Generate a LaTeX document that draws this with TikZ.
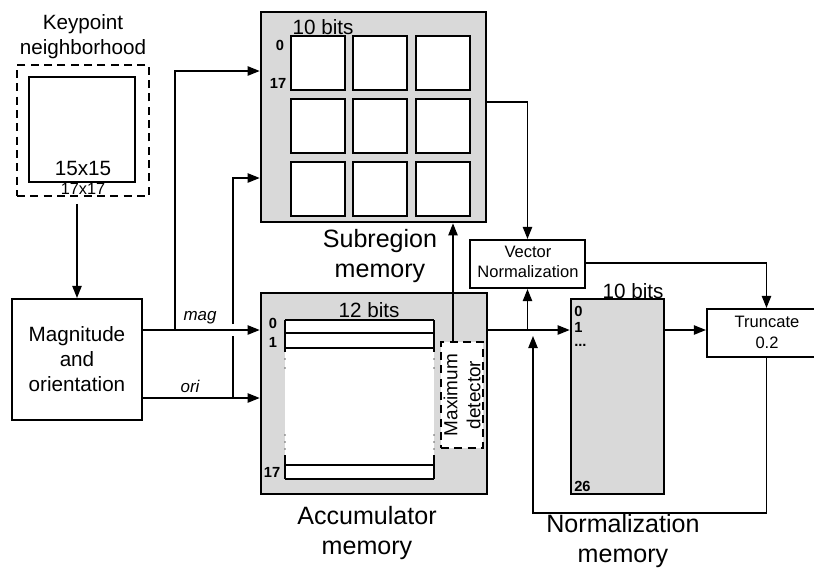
\documentclass[tikz,border=0pt]{standalone}
\usepackage{fontspec}
\setmainfont{Liberation Sans}
\usetikzlibrary{arrows.meta,fit,calc}
\definecolor{memgray}{RGB}{217,217,217}
\begin{document}
\begin{tikzpicture}[x=0.75pt,y=-0.75pt,
  box/.style={draw,line width=1.6pt,fill=white,inner sep=0pt},
  mem/.style={draw,line width=2pt,fill=memgray,inner sep=0pt},
  cell/.style={draw,line width=1.3pt,fill=white,inner sep=0pt},
  dbox/.style={draw,line width=1.3pt,dash pattern=on 6pt off 4pt,inner sep=0pt},
  conn/.style={line width=1pt,-{Triangle[length=9pt,width=7pt]}},
  wire/.style={line width=1pt},
  txt/.style={inner sep=0pt,align=center},
  big/.style={font=\fontsize{15.5}{18.75}\selectfont},
  huge/.style={font=\fontsize{18.8}{22.5}\selectfont},
  small/.style={font=\fontsize{12.4}{14.5}\selectfont},
  num/.style={inner sep=0pt,font=\fontsize{11}{13}\bfseries\selectfont},
  lab/.style={inner sep=0pt,font=\fontsize{12.7}{15}\itshape\selectfont},
]
\useasboundingbox (0,0) rectangle (814,569);
\clip (0,0) rectangle (814,569);

% keypoint neighborhood
\node[txt,big] (kptitle) at (83,37) {Keypoint\\neighborhood};
\node[dbox,fit={(17,65) (149,196)}] (kpouter) {};
\node[box,line width=1.3pt,fit={(29,77) (135,182)}] (kpinner) {};
\node[txt,big] (kp15) at (83,168) {15x15};
\node[txt,font=\fontsize{12.2}{14}\selectfont] (kp17) at (83,189) {17x17};

% magnitude and orientation
\node[box,big,align=center,fit={(12,299) (142,420)}] (magbox) {};
\node[txt,big] (magtxt) at (magbox.center) {Magnitude\\and\\orientation};

% subregion memory
\node[mem,fit={(261,12) (486,222)}] (sub) {};
\node[txt,big] (subbits) at (323,27) {10 bits};
\node[num] (sub0) at (280,45) {0};
\node[num] (sub17) at (278,83) {17};
\foreach \c/\x in {0/291,1/353,2/416}
  \foreach \r/\y in {0/36,1/99,2/162}
    \node[cell,fit={(\x,\y) (\x+54,\y+54)}] (cell\r\c) {};
\node[txt,huge] (sublab) at (380,256) {Subregion\\memory};

% accumulator memory
\node[mem,fit={(261,293) (487,494)}] (acc) {};
\node[txt,big] (accbits) at (369,310) {12 bits};
\fill[white] (285,320) rectangle (434,479);
\foreach \yy in {320,333,348,465,479}
  \draw[line width=1pt] (285,\yy) -- (434,\yy);
\foreach \xx in {285,434} {
  \draw[line width=1.2pt] (\xx,320) -- (\xx,352);
  \draw[line width=1.2pt] (\xx,455) -- (\xx,479);
  \foreach \dd in {359,368,435,442,449}
    \fill[black!60] (\xx,\dd) circle (0.7pt);
}
\node[num] (acc0) at (273,323) {0};
\node[num] (acc1) at (273,342) {1};
\node[num] (acc17) at (272,472) {17};
\node[dbox,fill=white,fit={(441,342) (483,448)}] (maxdet) {};
\node[txt,rotate=90,font=\fontsize{14.2}{17.25}\selectfont] (maxtxt) at (maxdet.center) {Maximum\\detector};
\node[txt,huge] (acclab) at (367,533) {Accumulator\\memory};

% vector normalization
\node[box,fit={(470,240) (585,288)}] (vn) {};
\node[txt,small] (vntxt) at (528,262) {Vector\\Normalization};

% normalization memory
\node[mem,fit={(571,299) (664,494)}] (norm) {};
\node[txt,big] (normbits) at (633,291) {10 bits};
\node[num,anchor=west] (norm0) at (574,311) {0};
\node[num,anchor=west] (norm1) at (574,327) {1};
\node[num,anchor=west] (normd) at (574,345) {...};
\node[num,anchor=west] (norm26) at (574,486) {26};
\node[txt,huge] (normlab) at (623,541) {Normalization\\memory};

% truncate
\node[box,fit={(707,309) (826,357)}] (trunc) {};
\node[txt,small,font=\fontsize{12.4}{15.75}\selectfont] (trtxt) at (767,332) {Truncate\\0.2};

% helper coordinates
\coordinate (ymag) at (0,330);
\coordinate (yori) at (0,398);
\coordinate (xtap1) at (175,0);
\coordinate (xtap2) at (233,0);
\coordinate (ytop1) at (0,71);
\coordinate (ytop2) at (0,178);
\coordinate (ysubout) at (0,102);
\coordinate (yvn) at (0,263);
\coordinate (yfb) at (0,513);
\coordinate (xfb) at (533,0);
\coordinate (xmd) at (453,0);

% connectors
\draw[conn] ($(kpouter.south -| magbox.north)+(0,7)$) -- (magbox.north);
\draw[conn] (magbox.east |- ymag) -- (acc.west |- ymag);
\draw[conn] (magbox.east |- yori) -- (acc.west |- yori);
\draw[conn] (xtap1 |- ymag) -- (xtap1 |- ytop1) -- (sub.west |- ytop1);
\draw[wire] (xtap2 |- yori) -- ($(xtap2 |- ymag)+(0,6)$);
\draw[conn] ($(xtap2 |- ymag)+(0,-6)$) -- (xtap2 |- ytop2) -- (sub.west |- ytop2);
\node[lab] (maglab) at (200,318) {mag};
\node[lab] (orilab) at (190,386) {ori};

\draw[conn] (maxdet.north -| xmd) -- (sub.south -| xmd);
\draw[conn] (sub.east |- ysubout) -- (vn.north |- ysubout) -- (vn.north);
\draw[conn] (acc.east |- ymag) -- (norm.west |- ymag);
\draw[conn] (vn.south |- ymag) -- (vn.south);
\draw[conn] (norm.east |- ymag) -- (trunc.west |- ymag);
\draw[conn] (vn.east |- yvn) -- (trunc.north |- yvn) -- (trunc.north);
\draw[conn] (trunc.south) -- (trunc.south |- yfb) -- (xfb |- yfb) -- ($(xfb |- ymag)+(0,6)$);
\end{tikzpicture}
\end{document}
